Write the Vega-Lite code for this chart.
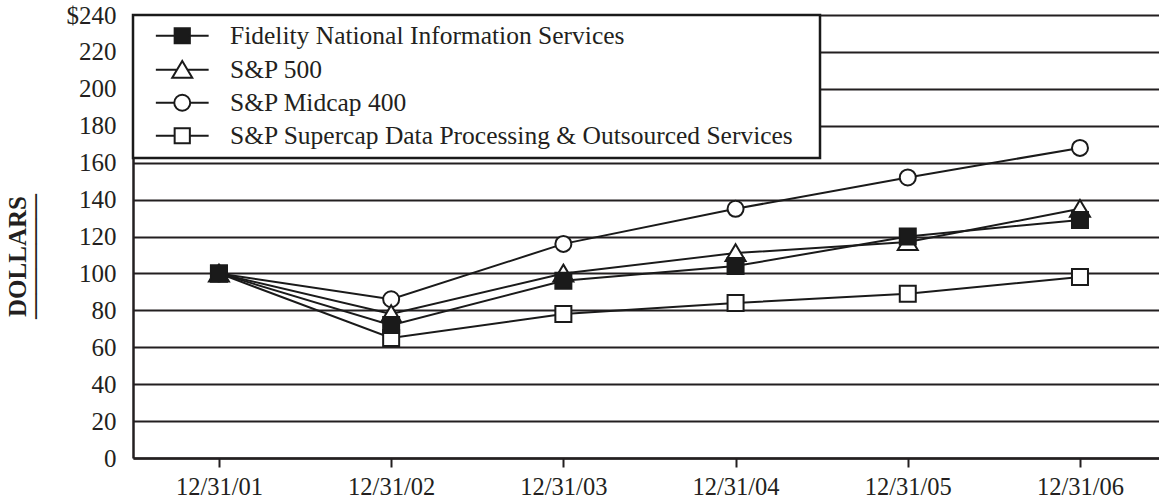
{
  "$schema": "https://vega.github.io/schema/vega-lite/v6.json",
  "width": 1026,
  "height": 443,
  "autosize": {"type": "none"},
  "padding": {"left": 133, "top": 15, "right": 0, "bottom": 46},
  "background": "white",
  "config": {"view": {"stroke": null}, "font": "Liberation Serif"},
  "data": {
    "values": [
      {"date": "12/31/01", "series": "S&P Midcap 400", "value": 100},
      {"date": "12/31/02", "series": "S&P Midcap 400", "value": 86},
      {"date": "12/31/03", "series": "S&P Midcap 400", "value": 116},
      {"date": "12/31/04", "series": "S&P Midcap 400", "value": 135},
      {"date": "12/31/05", "series": "S&P Midcap 400", "value": 152},
      {"date": "12/31/06", "series": "S&P Midcap 400", "value": 168},
      {"date": "12/31/01", "series": "S&P 500", "value": 100},
      {"date": "12/31/02", "series": "S&P 500", "value": 78},
      {"date": "12/31/03", "series": "S&P 500", "value": 100},
      {"date": "12/31/04", "series": "S&P 500", "value": 111},
      {"date": "12/31/05", "series": "S&P 500", "value": 117},
      {"date": "12/31/06", "series": "S&P 500", "value": 135},
      {"date": "12/31/01", "series": "S&P Supercap Data Processing & Outsourced Services", "value": 100},
      {"date": "12/31/02", "series": "S&P Supercap Data Processing & Outsourced Services", "value": 65},
      {"date": "12/31/03", "series": "S&P Supercap Data Processing & Outsourced Services", "value": 78},
      {"date": "12/31/04", "series": "S&P Supercap Data Processing & Outsourced Services", "value": 84},
      {"date": "12/31/05", "series": "S&P Supercap Data Processing & Outsourced Services", "value": 89},
      {"date": "12/31/06", "series": "S&P Supercap Data Processing & Outsourced Services", "value": 98},
      {"date": "12/31/01", "series": "Fidelity National Information Services", "value": 100},
      {"date": "12/31/02", "series": "Fidelity National Information Services", "value": 72},
      {"date": "12/31/03", "series": "Fidelity National Information Services", "value": 96},
      {"date": "12/31/04", "series": "Fidelity National Information Services", "value": 104},
      {"date": "12/31/05", "series": "Fidelity National Information Services", "value": 120},
      {"date": "12/31/06", "series": "Fidelity National Information Services", "value": 129}
    ]
  },
  "encoding": {
    "x": {
      "field": "date",
      "type": "ordinal",
      "scale": {"type": "point", "padding": 0.479, "align": 0.521},
      "axis": {
        "title": null,
        "labelAngle": 0,
        "labelFont": "Liberation Serif",
        "labelFontSize": 24.5,
        "labelColor": "#231f20",
        "labelPadding": 8,
        "tickSize": 9,
        "tickWidth": 2,
        "tickColor": "#231f20",
        "domainColor": "#231f20",
        "domainWidth": 2.5,
        "grid": false
      }
    },
    "y": {
      "field": "value",
      "type": "quantitative",
      "scale": {"domain": [0, 240], "nice": false},
      "axis": {
        "values": [0, 20, 40, 60, 80, 100, 120, 140, 160, 180, 200, 220, 240],
        "labelExpr": "datum.value == 240 ? '$240' : datum.label",
        "labelFont": "Liberation Serif",
        "labelFontSize": 25,
        "labelColor": "#231f20",
        "labelPadding": 17,
        "ticks": false,
        "grid": true,
        "gridColor": "#231f20",
        "gridWidth": 2,
        "gridOpacity": 1,
        "domainColor": "#231f20",
        "domainWidth": 2.5,
        "title": ["DOLLARS", "—————"],
        "titleFont": "Liberation Serif",
        "titleFontWeight": "bold",
        "titleFontSize": 25,
        "titleColor": "#231f20",
        "titleAngle": 270,
        "titleAlign": "center",
        "titleBaseline": "alphabetic",
        "titleLineHeight": 16,
        "titleX": -108,
        "titleY": 241
      }
    }
  },
  "layer": [
    {
      "mark": {"type": "line", "color": "#1a1a1a", "strokeWidth": 2},
      "encoding": {"detail": {"field": "series"}}
    },
    {
      "mark": {"type": "point", "opacity": 1, "stroke": "#1a1a1a", "strokeWidth": 2, "size": 256},
      "encoding": {
        "shape": {
          "field": "series",
          "scale": {
            "domain": ["Fidelity National Information Services", "S&P 500", "S&P Midcap 400", "S&P Supercap Data Processing & Outsourced Services"],
            "range": ["square", "M0,-1.1L1.25,1L-1.25,1Z", "circle", "square"]
          },
          "legend": null
        },
        "fill": {
          "field": "series",
          "scale": {
            "domain": ["Fidelity National Information Services", "S&P 500", "S&P Midcap 400", "S&P Supercap Data Processing & Outsourced Services"],
            "range": ["#1a1a1a", "white", "white", "white"]
          },
          "legend": null
        }
      }
    },
    {
      "mark": {"type": "point", "opacity": 0, "stroke": "#1a1a1a", "strokeWidth": 2, "size": 256},
      "encoding": {
        "shape": {
          "field": "series",
          "scale": {
            "domain": ["Fidelity National Information Services", "S&P 500", "S&P Midcap 400", "S&P Supercap Data Processing & Outsourced Services"],
            "range": [
              "M-5,0M-3.3,0H-0.95M0.95,0H3.3M-0.95,-0.95H0.95V0.95H-0.95ZM78.1,0",
              "M-5,0M-3.3,0H-0.66M0.66,0H3.3M0,-1.1L1.25,1L-1.25,1ZM78.1,0",
              "M-5,0M-3.3,0H-1M1,0H3.3M-1,0A1,1,0,1,1,1,0A1,1,0,1,1,-1,0ZM78.1,0",
              "M-5,0M-3.3,0H-0.95M0.95,0H3.3M-0.95,-0.95H0.95V0.95H-0.95ZM78.1,0"
            ]
          },
          "legend": {
            "title": null,
            "orient": "none",
            "legendX": 0,
            "legendY": 0,
            "direction": "vertical",
            "padding": 8,
            "fillColor": "white",
            "strokeColor": "#1a1a1a",
            "symbolSize": 256,
            "symbolStrokeWidth": 2,
            "symbolStrokeColor": "#1a1a1a",
            "symbolOffset": 28.5,
            "labelOffset": 35,
            "labelFont": "Liberation Serif",
            "labelFontSize": 25.5,
            "labelColor": "#231f20",
            "labelLimit": 800,
            "rowPadding": 6,
            "encode": {
              "symbols": {"update": {"opacity": {"value": 1}}},
              "legend": {"update": {"strokeWidth": {"value": 2.5}}}
            }
          }
        },
        "fill": {
          "field": "series",
          "scale": {
            "domain": ["Fidelity National Information Services", "S&P 500", "S&P Midcap 400", "S&P Supercap Data Processing & Outsourced Services"],
            "range": ["#1a1a1a", "white", "white", "white"]
          },
          "legend": {
            "title": null,
            "orient": "none",
            "legendX": 0,
            "legendY": 0,
            "direction": "vertical",
            "padding": 8,
            "fillColor": "white",
            "strokeColor": "#1a1a1a",
            "symbolSize": 256,
            "symbolStrokeWidth": 2,
            "symbolStrokeColor": "#1a1a1a",
            "symbolOffset": 28.5,
            "labelOffset": 35,
            "labelFont": "Liberation Serif",
            "labelFontSize": 25.5,
            "labelColor": "#231f20",
            "labelLimit": 800,
            "rowPadding": 6,
            "encode": {
              "symbols": {"update": {"opacity": {"value": 1}}},
              "legend": {"update": {"strokeWidth": {"value": 2.5}}}
            }
          }
        }
      }
    }
  ],
  "resolve": {"scale": {"shape": "independent", "fill": "independent"}}
}
